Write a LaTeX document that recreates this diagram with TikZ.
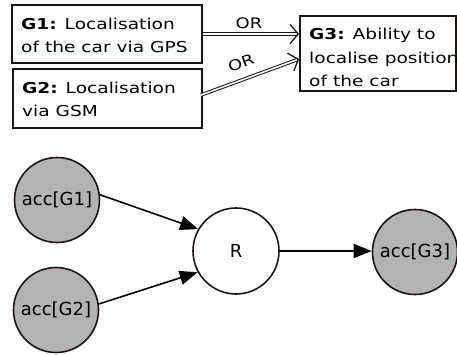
\documentclass[tikz,border=0pt]{standalone}
\usepackage{fontspec}
\setmainfont{DejaVu Sans}[FakeStretch=1.24]
\newfontfamily\circlefont{DejaVu Sans}
\usetikzlibrary{arrows.meta}
\definecolor{edge}{HTML}{1E1212}
\definecolor{accfill}{HTML}{B3B3B3}
\tikzset{
  goalbox/.style={draw=edge, line width=2pt, anchor=north west, inner sep=0pt},
  goaltext/.style={anchor=west, align=left, inner sep=0pt, xshift=10pt, yshift=-1pt,
    font=\fontsize{15}{23}\selectfont},
  orline/.style={draw=edge, double=white, double distance=1.6pt, line width=1pt,
    -{Straight Barb[length=8pt,width=19pt,line width=1.3pt]}},
  orlabel/.style={font=\fontsize{14.5}{17}\selectfont, inner sep=0pt},
  acc/.style={circle, draw=edge, line width=1.6pt, fill=accfill, minimum size=85pt, inner sep=0pt,
    font=\circlefont\fontsize{18}{20}\selectfont},
  rnode/.style={circle, draw=edge, line width=1.6pt, fill=white, minimum size=86pt, inner sep=0pt,
    font=\circlefont\fontsize{18}{20}\selectfont},
  flow/.style={draw=black, line width=1.6pt, -{Triangle[length=18pt,width=14pt]}}
}
\begin{document}
\begin{tikzpicture}[x=1pt,y=-1pt]
\useasboundingbox (0,0) rectangle (457,354);
\node[goalbox, minimum width=190pt, minimum height=58pt] (g1) at (11,4) {};
\node[goaltext] (g1t) at (g1.west) {\textbf{G1:} Localisation\\of the car via GPS};
\node[goalbox, minimum width=189pt, minimum height=59pt] (g2) at (12,68) {};
\node[goaltext] (g2t) at (g2.west) {\textbf{G2:} Localisation\\via GSM};
\node[goalbox, minimum width=156pt, minimum height=75pt] (g3) at (299,15) {};
\node[goaltext, yshift=-3pt, font=\fontsize{15}{23.5}\selectfont] (g3t) at (g3.west) {\textbf{G3:} Ability to\\localise position\\of the car};
\coordinate (g3a) at (299,34);
\coordinate (g3b) at (299,59);
\coordinate (g2a) at (201,95);
\draw[orline] (g1.east |- g3a) -- (g3a);
\node[orlabel] (or1) at (249,23) {OR};
\draw[orline] (g2a) -- (g3b);
\node[orlabel, rotate=20] (or2) at (241,63) {OR};

\node[acc] (a1) at (57,200) {acc[G1]};
\node[acc] (a2) at (56,310) {acc[G2]};
\node[rnode] (r) at (236,251) {R};
\node[acc] (a3) at (415,252) {acc[G3]};
\draw[flow] (a1.7) -- (r.150);
\draw[flow] (a2.8) -- (r.209);
\draw[flow] (r.east) -- (r.east -| a3.west);
\end{tikzpicture}
\end{document}
